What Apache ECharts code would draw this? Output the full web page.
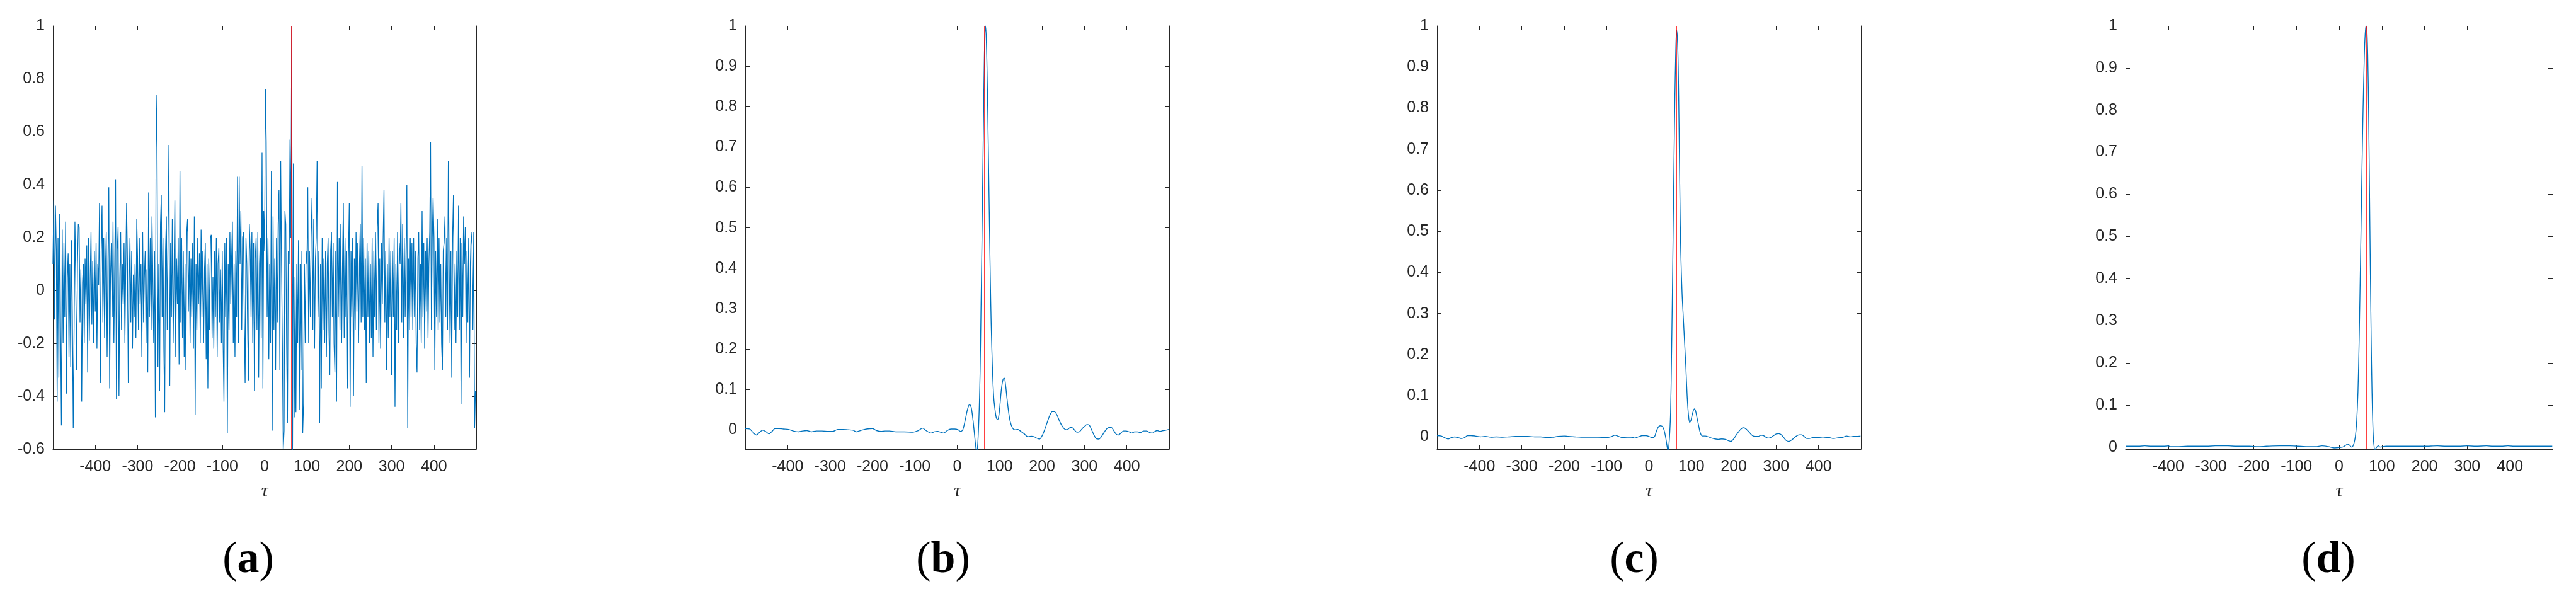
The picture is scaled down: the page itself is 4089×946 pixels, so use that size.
<!DOCTYPE html>
<html>
<head>
<meta charset="utf-8">
<title>GCC</title>
<script src="https://cdn.jsdelivr.net/npm/echarts@6/dist/echarts.min.js"></script>
<style>
  html, body { margin: 0; padding: 0; background: #fff; }
  #main { width: 4089px; height: 946px; }
</style>
</head>
<body>
<div id="main"></div>
<script>
// true delay (red line)
const trueDelay = 64

// panel (a): noisy correlation, one value every 2 lags from -500
const noisyLagStart = -500
const noisyLagStep = 2
const gccNoisy = [
  0.1, 0.34, -0.11, 0.32, 0.15, -0.42, 0.2, -0.33, 0.29, -0.14, -0.51, 0.23, -0.2, 0.18, -0.1, 0.26, -0.39, 0.05, 0.14, -0.25, 0.1, -0.29, 0.19, -0.1, -0.52,
  -0.15, 0.26, 0.02, -0.3, 0.1, 0.25, 0.24, -0.12, 0.08, -0.42, 0.03, 0.1, -0.2, 0.12, -0.05, 0.17, -0.31, 0.2, -0.19, 0.05, 0.22, -0.13, 0.11, -0.2, 0.15,
  -0.08, 0.18, -0.22, 0.1, 0.02, 0.33, -0.35, 0.15, 0.32, -0.12, 0.2, -0.18, 0.08, 0.22, -0.25, 0.12, 0.39, -0.37, 0.05, 0.18, -0.1, 0.26, -0.2, 0.1, 0.42,
  -0.41, 0.15, 0.24, -0.4, 0.05, 0.22, -0.15, 0.1, -0.05, 0.18, -0.2, 0.08, 0.33, 0.12, -0.35, 0.02, 0.2, -0.12, 0.15, -0.22, 0.06, -0.1, 0.1, -0.18, 0.27,
  0.12, -0.15, 0.2, -0.05, 0.1, -0.25, 0.22, -0.12, 0.05, 0.15, -0.2, 0.08, -0.31, 0.37, -0.1, 0.2, -0.15, 0.28, 0.05, -0.2, 0.15, -0.48, 0.74, 0.54, -0.29,
  0.1, -0.38, 0.25, 0.36, -0.1, 0.2, -0.22, -0.46, 0.15, 0.28, -0.15, 0.2, 0.55, -0.36, 0.18, -0.1, 0.27, -0.2, 0.05, 0.34, -0.25, 0.12, -0.05, 0.2, -0.28,
  0.45, -0.12, 0.2, -0.18, 0.15, -0.25, 0.1, -0.3, 0.22, 0.27, -0.08, 0.15, -0.2, 0.12, -0.1, 0.18, -0.22, 0.28, -0.47, 0.1, -0.15, 0.2, -0.05, 0.14, -0.2,
  0.23, -0.1, 0.15, -0.2, 0.08, 0.18, -0.26, 0.1, -0.37, 0.12, -0.15, 0.2, 0.21, -0.18, 0.05, -0.22, 0.15, -0.1, 0.2, -0.25, 0.1, 0.16, -0.12, 0.08, -0.2,
  0.15, -0.2, -0.42, 0.18, -0.1, 0.2, -0.54, 0.1, -0.15, 0.22, -0.05, 0.12, 0.26, -0.2, 0.1, -0.25, 0.15, -0.1, 0.43, -0.2, 0.43, 0.1, 0.3, -0.15, 0.2,
  0.22, -0.1, -0.35, 0.2, 0.1, -0.15, -0.34, 0.25, 0.15, -0.1, 0.22, -0.2, 0.18, -0.38, 0.12, 0.2, -0.15, 0.22, -0.33, 0.1, 0.2, -0.18, 0.52, -0.37, 0.3,
  0.15, 0.76, 0.56, -0.1, 0.2, -0.26, 0.1, -0.2, 0.45, -0.53, 0.28, -0.15, 0.12, -0.3, 0.2, -0.12, 0.25, 0.38, -0.3, 0.49, 0.1, -0.2, -0.6, -0.53, 0.3,
  0.25, -0.2, -0.5, 0.15, 0.1, 0.57, 0.2, 1.0, -0.62, 0.48, -0.48, 0.05, -0.46, 0.1, -0.2, 0.19, -0.45, 0.1, -0.3, 0.15, -0.54, -0.43, 0.1, -0.2, 0.15,
  0.1, 0.39, -0.2, 0.15, -0.1, 0.2, 0.35, -0.15, 0.27, -0.22, 0.12, 0.2, 0.49, -0.1, 0.15, -0.5, 0.1, -0.37, 0.2, -0.15, 0.12, -0.2, 0.15, -0.25, 0.1,
  0.2, -0.15, -0.32, 0.15, 0.22, -0.1, 0.18, -0.2, -0.31, 0.15, -0.42, 0.41, -0.1, 0.2, -0.15, 0.25, -0.2, 0.1, 0.33, -0.18, 0.2, -0.1, 0.15, -0.37, 0.12,
  0.33, -0.44, 0.15, -0.1, 0.2, -0.4, 0.12, -0.15, 0.22, -0.08, 0.18, -0.2, 0.1, 0.25, -0.12, 0.47, -0.1, 0.2, -0.15, 0.12, -0.35, 0.18, -0.1, 0.15, -0.2,
  0.1, -0.18, 0.2, -0.25, 0.15, -0.1, 0.22, -0.15, 0.24, 0.33, -0.2, 0.12, -0.22, 0.18, -0.05, 0.2, 0.38, -0.12, 0.15, -0.3, 0.1, -0.18, 0.2, -0.1, 0.15,
  -0.32, 0.15, -0.1, 0.2, -0.44, 0.1, -0.15, 0.22, -0.2, 0.18, 0.1, 0.33, -0.12, 0.25, -0.18, 0.2, -0.1, 0.15, 0.4, -0.52, 0.12, -0.15, 0.2, -0.1, 0.18,
  -0.15, 0.2, -0.1, 0.15, -0.2, -0.31, 0.12, 0.22, -0.15, 0.1, -0.2, 0.3, -0.1, 0.18, -0.22, 0.15, -0.08, 0.2, -0.18, 0.1, 0.22, 0.56, -0.15, 0.2, 0.35,
  0.2, -0.3, 0.15, -0.1, 0.27, -0.15, 0.2, -0.12, 0.1, -0.2, -0.3, 0.15, 0.18, 0.28, -0.1, 0.2, -0.15, 0.49, 0.1, -0.2, 0.15, -0.33, 0.2, 0.36, -0.15,
  0.1, -0.2, 0.15, -0.1, 0.32, -0.15, 0.2, -0.43, 0.18, -0.1, 0.28, 0.1, 0.24, -0.2, 0.15, -0.12, 0.2, -0.33, 0.1, 0.22, 0.17, -0.15, 0.22, -0.52, -0.38
]

// panel (b): [lag, value]
const gccB = [
  [-500,0.003],[-490,0.002],[-482,-0.006],[-474,-0.013],[-466,-0.006],[-459,-0.001],[-452,-0.004],[-444,-0.01],[-437,-0.004],[-430,0.003],
  [-420,0.003],[-410,0.002],[-398,0.001],[-387,-0.003],[-375,-0.005],[-365,-0.003],[-355,-0.002],[-344,-0.005],[-332,-0.003],[-319,-0.003],
  [-305,-0.004],[-293,-0.004],[-282,0.001],[-270,0.001],[-258,0.0],[-246,-0.001],[-238,-0.005],[-226,-0.001],[-214,0.002],[-200,0.003],
  [-190,-0.002],[-180,-0.004],[-170,-0.003],[-160,-0.003],[-145,-0.005],[-125,-0.005],[-105,-0.006],[-92,-0.002],[-82,0.004],[-72,-0.003],
  [-62,-0.008],[-54,-0.005],[-46,-0.004],[-39,-0.006],[-32,-0.008],[-24,-0.002],[-15,0.002],[-6,0.002],[2,0.0],[8,-0.004],
  [13,0.0],[19,0.025],[24,0.05],[29,0.063],[33,0.055],[37,0.025],[41,-0.015],[44,-0.045],[46,-0.055],[48,-0.04],
  [50,0.0],[52,0.06],[54,0.15],[56,0.3],[58,0.45],[60,0.62],[62,0.78],[64,0.93],[66,1.0],[68,0.98],
  [70,0.9],[72,0.78],[74,0.64],[76,0.5],[78,0.37],[80,0.26],[83,0.15],[86,0.08],[89,0.05],[92,0.03],
  [95,0.025],[98,0.035],[101,0.065],[104,0.1],[108,0.125],[111,0.128],[114,0.11],[117,0.08],[121,0.045],[125,0.02],
  [130,0.005],[136,0.0],[143,0.001],[150,-0.004],[158,-0.01],[166,-0.017],[174,-0.016],[181,-0.017],[188,-0.021],[194,-0.023],
  [200,-0.015],[206,0.0],[212,0.018],[218,0.035],[224,0.045],[229,0.045],[235,0.037],[241,0.022],[247,0.01],[253,0.002],
  [259,0.0],[265,0.005],[270,0.006],[276,0.0],[282,-0.006],[288,-0.005],[294,0.002],[300,0.008],[306,0.013],[311,0.012],
  [316,0.002],[322,-0.012],[328,-0.022],[334,-0.023],[340,-0.017],[346,-0.007],[352,0.002],[358,0.006],[363,0.006],[368,0.0],
  [374,-0.01],[380,-0.013],[386,-0.008],[392,-0.003],[398,-0.003],[405,-0.005],[412,-0.008],[418,-0.005],[425,-0.005],[432,-0.007],
  [440,-0.003],[447,-0.003],[454,-0.007],[460,-0.008],[466,-0.004],[472,-0.002],[478,-0.004],[485,-0.002],[492,-0.001],[499,0.001]
]

// panel (c)
const gccC = [
  [-500,0.003],[-490,0.002],[-482,-0.002],[-474,-0.005],[-466,-0.002],[-458,0.0],[-450,-0.002],[-442,-0.004],[-435,-0.002],[-428,0.003],
  [-420,0.003],[-410,0.002],[-398,0.0],[-386,0.001],[-372,-0.001],[-360,0.0],[-345,-0.001],[-330,0.0],[-315,0.001],[-300,0.001],
  [-285,0.001],[-270,0.0],[-255,0.0],[-240,-0.002],[-228,-0.001],[-214,0.001],[-200,0.002],[-190,0.001],[-175,0.0],[-160,-0.001],
  [-140,-0.001],[-120,-0.001],[-100,-0.002],[-90,0.0],[-80,0.004],[-72,0.001],[-62,-0.002],[-52,-0.001],[-42,-0.001],[-33,-0.003],
  [-25,0.0],[-15,0.003],[-7,0.003],[2,0.0],[8,-0.002],[13,0.0],[17,0.012],[22,0.024],[27,0.027],[32,0.025],
  [36,0.015],[40,-0.005],[43,-0.025],[45,-0.035],[47,-0.02],[49,0.01],[51,0.06],[53,0.18],[55,0.33],[57,0.5],
  [59,0.67],[61,0.82],[63,0.93],[65,0.99],[67,0.97],[69,0.9],[71,0.75],[73,0.58],[75,0.45],[78,0.35],
  [81,0.29],[84,0.23],[87,0.17],[90,0.1],[93,0.055],[96,0.035],[99,0.04],[103,0.058],[107,0.068],[110,0.063],
  [113,0.048],[117,0.028],[121,0.01],[126,0.002],[133,0.002],[140,0.0],[148,-0.003],[156,-0.005],[164,-0.006],[172,-0.005],
  [180,-0.006],[187,-0.009],[193,-0.011],[199,-0.006],[205,0.003],[211,0.012],[217,0.019],[222,0.022],[228,0.02],[234,0.014],
  [240,0.007],[246,0.002],[252,0.001],[258,0.001],[264,0.004],[270,0.003],[276,-0.001],[282,-0.003],[288,-0.001],[294,0.003],
  [300,0.007],[306,0.008],[312,0.005],[318,-0.002],[324,-0.009],[330,-0.011],[336,-0.008],[342,-0.003],[348,0.002],[354,0.005],
  [360,0.005],[366,0.001],[372,-0.004],[378,-0.004],[386,-0.002],[394,-0.002],[402,-0.002],[410,-0.003],[418,-0.002],[426,-0.002],
  [434,-0.004],[442,-0.003],[450,-0.002],[458,-0.001],[466,0.002],[474,0.0],[482,0.001],[490,0.001],[499,0.002]
]

// panel (d)
const gccD = [
  [-500,0.002],[-470,0.002],[-455,0.003],[-440,0.002],[-410,0.002],[-400,0.003],[-395,0.001],[-380,0.001],[-355,0.002],[-330,0.002],
  [-310,0.002],[-290,0.003],[-260,0.003],[-240,0.002],[-210,0.002],[-190,0.001],[-170,0.002],[-140,0.003],[-115,0.003],[-95,0.002],
  [-75,0.001],[-55,0.001],[-40,0.003],[-25,0.001],[-10,-0.002],[0,-0.001],[8,0.0],[15,0.004],[20,0.007],[25,0.004],
  [29,0.0],[32,0.002],[35,0.01],[38,0.025],[41,0.06],[44,0.13],[47,0.26],[50,0.44],[53,0.63],[56,0.8],
  [59,0.93],[61,0.98],[63,1.0],[65,0.99],[67,0.93],[69,0.8],[71,0.62],[73,0.43],[75,0.26],[77,0.13],
  [79,0.05],[81,0.01],[84,-0.006],[88,0.0],[92,0.003],[96,0.0],[102,0.001],[110,0.002],[125,0.002],[150,0.002],
  [180,0.002],[200,0.002],[230,0.003],[250,0.002],[280,0.002],[300,0.003],[320,0.002],[345,0.003],[360,0.002],[380,0.002],
  [395,0.003],[410,0.002],[440,0.002],[470,0.002],[499,0.002]
]

const yTicksA = [-0.6, -0.4, -0.2, 0, 0.2, 0.4, 0.6, 0.8, 1]
const yTicksBCD = [0, 0.1, 0.2, 0.3, 0.4, 0.5, 0.6, 0.7, 0.8, 0.9, 1]
const yMins = [-0.6, -0.048, -0.03, -0.005]
const captions = ['a', 'b', 'c', 'd']

var myChart = echarts.init(document.getElementById('main'))

const ink = '#262626'
const blue = '#0072BD'
const boxes = [
  { left: 84, width: 672 },
  { left: 1183, width: 673 },
  { left: 2281, width: 673 },
  { left: 3374, width: 678 }
]
const captionX = [394, 1497, 2594, 3696]

const panelData = [
  gccNoisy.map((v, i) => [noisyLagStart + i * noisyLagStep, v]),
  gccB,
  gccC,
  gccD
]

let grid = []
let xAxis = []
let yAxis = []
let series = []
let graphic = []

boxes.forEach((b, i) => {
  grid.push({ left: b.left, width: b.width, top: 41, height: 672 })
  let ticks = i === 0 ? yTicksA : yTicksBCD
  let line = { show: true, onZero: false, lineStyle: { color: ink, width: 1 } }
  let tick = { show: true, inside: true, length: 7, lineStyle: { color: ink, width: 1 } }
  let lab = { color: ink, fontSize: 25, fontFamily: 'Liberation Sans' }
  xAxis.push({
    type: 'value', gridIndex: i, position: 'bottom',
    min: -500, max: 500, interval: 100,
    axisLine: line, axisTick: tick, splitLine: { show: false },
    axisLabel: Object.assign({ margin: 16, formatter: v => (Math.abs(v) === 500 ? '' : v) }, lab),
    name: 'τ', nameLocation: 'middle', nameGap: 52,
    nameTextStyle: { color: ink, fontSize: 30, fontStyle: 'italic', fontFamily: 'Liberation Serif' }
  })
  xAxis.push({
    type: 'value', gridIndex: i, position: 'top',
    min: -500, max: 500, interval: 100,
    axisLine: line, axisTick: tick, splitLine: { show: false },
    axisLabel: { show: false }
  })
  yAxis.push({
    type: 'value', gridIndex: i, position: 'left',
    min: yMins[i], max: 1,
    axisLine: line, splitLine: { show: false },
    axisTick: Object.assign({ customValues: ticks }, tick),
    axisLabel: Object.assign({ margin: 13, customValues: ticks }, lab)
  })
  yAxis.push({
    type: 'value', gridIndex: i, position: 'right',
    min: yMins[i], max: 1,
    axisLine: line, splitLine: { show: false },
    axisTick: Object.assign({ customValues: ticks }, tick),
    axisLabel: { show: false }
  })
  series.push({
    type: 'line',
    xAxisIndex: 2 * i,
    yAxisIndex: 2 * i,
    data: panelData[i],
    showSymbol: false,
    smooth: i === 0 ? false : 0.3,
    lineStyle: { color: blue, width: i === 0 ? 1.3 : 1.4 },
    markLine: {
      silent: true,
      symbol: 'none',
      label: { show: false },
      lineStyle: { color: '#FF0000', width: 1.5, type: 'solid' },
      data: [{ xAxis: trueDelay }]
    }
  })
  graphic.push({
    type: 'text',
    x: captionX[i],
    y: 890,
    style: {
      text: '{p|(}{l|' + captions[i] + '}{p|)}',
      textAlign: 'center', align: 'center',
      textVerticalAlign: 'middle', verticalAlign: 'middle',
      rich: {
        p: { fontFamily: 'Liberation Serif', fontSize: 70, fill: '#000', color: '#000' },
        l: { fontFamily: 'Liberation Serif', fontSize: 70, fontWeight: 'bold', fill: '#000', color: '#000' }
      }
    }
  })
})

let option = {
  backgroundColor: '#fff',
  animation: false,
  grid: grid,
  xAxis: xAxis,
  yAxis: yAxis,
  series: series,
  graphic: graphic
}
myChart.setOption(option)
</script>
</body>
</html>
